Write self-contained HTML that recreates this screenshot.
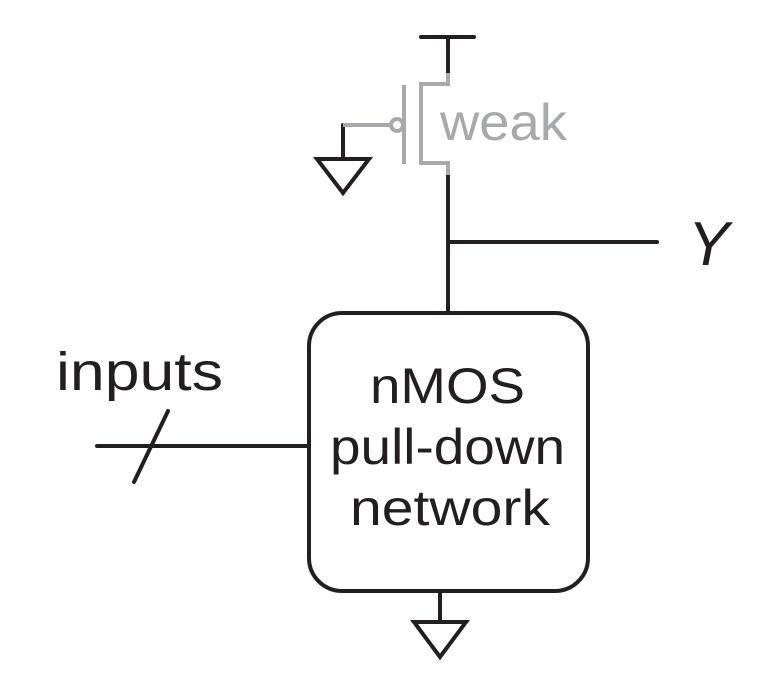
<!DOCTYPE html>
<html><head><style>html,body{margin:0;padding:0;background:#fff}svg{display:block}</style></head>
<body>
<svg width="778" height="697" viewBox="0 0 778 697" xmlns="http://www.w3.org/2000/svg" font-family="Liberation Sans, Arial, sans-serif">
<g stroke="#231f20" stroke-width="4" fill="none" stroke-linecap="round">
  <line x1="421" y1="37" x2="474" y2="37"/>
  <line x1="448" y1="37" x2="448" y2="73"/>
  <line x1="448" y1="175" x2="448" y2="311"/>
  <line x1="448" y1="242" x2="657" y2="242"/>
  <rect x="309" y="313" width="279" height="278" rx="33" ry="33"/>
  <line x1="97" y1="446" x2="309" y2="446"/>
  <line x1="134" y1="482" x2="168" y2="411"/>
  <line x1="440" y1="591" x2="440" y2="622"/>
  <polygon points="414,622 466,622 440,657" stroke-linejoin="miter"/>
  <line x1="343" y1="125" x2="343" y2="159"/>
  <polygon points="317,159 369,159 343,193"/>
</g>
<g stroke="#a7a9ac" stroke-width="4" fill="none">
  <polyline points="448,73 448,84 421,84 421,163 448,163 448,175"/>
  <line x1="404" y1="85" x2="404" y2="164"/>
  <circle cx="397" cy="125" r="6"/>
  <line x1="343" y1="125" x2="391" y2="125"/>
</g>
<text x="440" y="140" font-size="52" fill="#a7a9ac" textLength="127" lengthAdjust="spacingAndGlyphs">weak</text>
<text x="688" y="265" font-size="62" font-style="italic" fill="#231f20">Y</text>
<text x="56" y="390" font-size="54" fill="#231f20" textLength="167" lengthAdjust="spacingAndGlyphs">inputs</text>
<g font-size="50" fill="#231f20">
  <text x="370" y="403" textLength="155" lengthAdjust="spacingAndGlyphs">nMOS</text>
  <text x="330" y="464" textLength="235" lengthAdjust="spacingAndGlyphs">pull-down</text>
  <text x="350" y="525" textLength="200" lengthAdjust="spacingAndGlyphs">network</text>
</g>
</svg>
</body></html>
